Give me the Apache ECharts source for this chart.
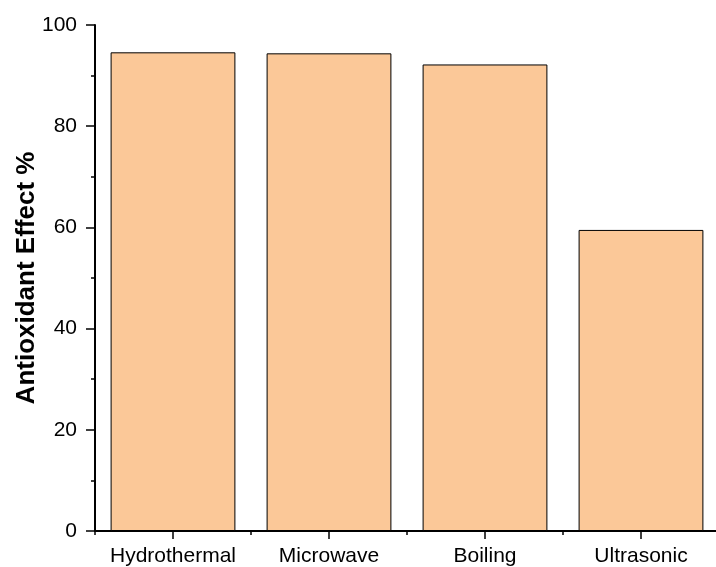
<!DOCTYPE html>
<html><head><meta charset="utf-8">
<script src="https://cdn.jsdelivr.net/npm/echarts@6/dist/echarts.min.js"></script>
<style>html,body{margin:0;padding:0;background:#fff}#c{width:716px;height:567px}</style>
</head><body><div id="c"></div>
<script>
const categories = ['Hydrothermal', 'Microwave', 'Boiling', 'Ultrasonic'];
const values = [94.6, 94.4, 92.2, 59.5];
const yTicks = [0, 20, 40, 60, 80, 100];
const yLabel = 'Antioxidant Effect %';

const chart = echarts.init(document.getElementById('c'), null, {renderer: 'canvas'});
const font = '"Liberation Sans", Arial, sans-serif';
chart.setOption({
  animation: false,
  grid: {left: 95, top: 25, width: 624, height: 506, containLabel: false, outerBoundsMode: 'none'},
  xAxis: [{
    type: 'category', data: categories,
    axisLine: {show: true, lineStyle: {color: '#000', width: 2}},
    axisTick: {show: true, alignWithLabel: true, length: 8, lineStyle: {color: '#000', width: 1.5}},
    axisLabel: {color: '#000', fontSize: 21, fontFamily: font, margin: 15, interval: 0, hideOverlap: false},
    splitLine: {show: false}
  }, {
    type: 'value', min: 0, max: 4, interval: 1, position: 'bottom',
    axisLine: {show: false}, axisLabel: {show: false}, splitLine: {show: false},
    axisTick: {show: true, length: 4, lineStyle: {color: '#000', width: 1.5}}
  }],
  yAxis: {
    type: 'value', min: yTicks[0], max: yTicks[yTicks.length - 1], interval: 20,
    name: yLabel, nameLocation: 'middle', nameGap: 55, nameMoveOverlap: false,
    nameTextStyle: {color: '#000', fontSize: 26, fontWeight: 'bold', fontFamily: font},
    axisLine: {show: true, lineStyle: {color: '#000', width: 2}},
    axisTick: {show: true, length: 9, lineStyle: {color: '#000', width: 1.5}},
    minorTick: {show: true, splitNumber: 2, length: 4, lineStyle: {color: '#000', width: 1.5}},
    axisLabel: {color: '#000', fontSize: 21, fontFamily: font, margin: 18},
    splitLine: {show: false}
  },
  series: [{
    type: 'bar', data: values, xAxisIndex: 0, barWidth: '80%',
    itemStyle: {color: '#FBC898', borderColor: '#000', borderWidth: 1}
  }]
});
</script></body></html>
